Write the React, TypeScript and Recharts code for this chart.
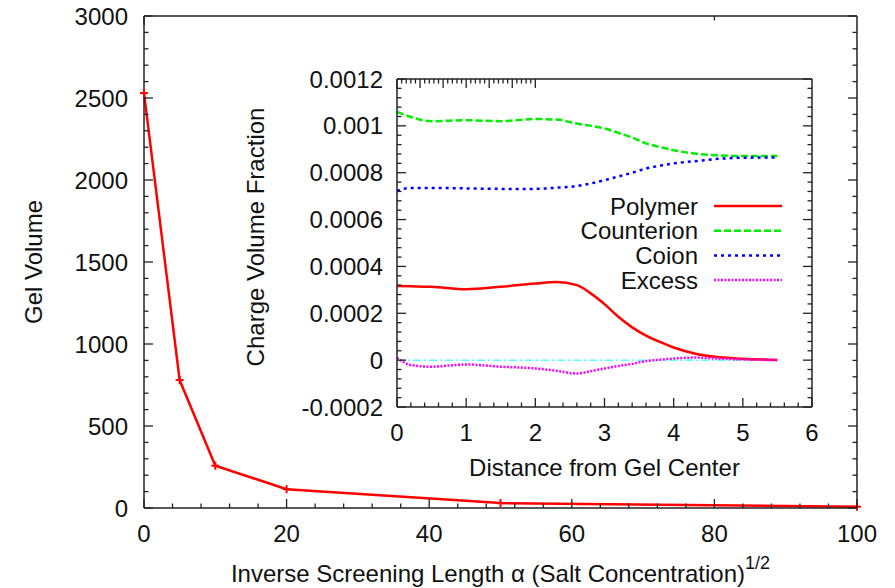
import React from 'react';
import { LineChart, Line, XAxis, YAxis, Legend, Label } from 'recharts';

const FONT = '"Liberation Sans", Arial, Helvetica, sans-serif';
const FS = 24;

// main plot: gel volume against inverse screening length
const alpha = [0, 5, 10, 20, 50, 100];
const gelVolume = [2530, 780, 258, 115, 30, 8];
const mainXTicks = [0, 20, 40, 60, 80, 100];
const mainYTicks = [0, 500, 1000, 1500, 2000, 2500, 3000];

// inset: charge profiles across the gel
const distance = [0, 0.2, 0.5, 1.0, 1.5, 2.0, 2.3, 2.6, 2.8, 3.0, 3.2, 3.4, 3.6, 3.8, 4.0, 4.3, 4.6, 5.0, 5.5];
const polymer = [0.000316, 0.000315, 0.000313, 0.000303, 0.000313, 0.000327, 0.000334, 0.00032, 0.000285, 0.000239, 0.000185, 0.00014, 0.000105, 0.000078, 0.000054, 0.0000285, 0.000014, 0.000006, 0.000001];
const counterion = [0.00106, 0.001038, 0.00102, 0.001024, 0.00102, 0.001029, 0.001027, 0.00101, 0.001, 0.000989, 0.00097, 0.00095, 0.000925, 0.00091, 0.000896, 0.000882, 0.000875, 0.000871, 0.000871];
const coion = [0.000723, 0.000735, 0.000735, 0.000733, 0.000731, 0.000731, 0.000736, 0.000743, 0.000754, 0.000768, 0.000784, 0.0008, 0.000818, 0.00083, 0.00084, 0.000849, 0.000858, 0.000864, 0.000865];
const excess = [0.00001, -0.000021, -0.000028, -0.0000185, -0.000028, -0.0000355, -0.000045, -0.000057, -0.000047, -0.0000355, -0.000025, -0.000016, -0.000004, 0.000002, 0.000007, 0.000011, 0.000007, 0.000003, 0];
const zeroLine = [0, 0, 0, 0, 0, 0, 0, 0, 0, 0, 0, 0, 0, 0, 0, 0, 0, 0, 0];
const insetXTicks = [0, 1, 2, 3, 4, 5, 6];
const insetYTicks = [-0.0002, 0, 0.0002, 0.0004, 0.0006, 0.0008, 0.001, 0.0012];

const mainData = alpha.map((a, i) => ({ alpha: a, volume: gelVolume[i] }));
const insetData = distance.map((d, i) => ({
  d,
  polymer: polymer[i],
  counterion: counterion[i],
  coion: coion[i],
  excess: excess[i],
  zero: zeroLine[i],
}));

const series = [
  { key: 'polymer', name: 'Polymer', color: '#ff0000', dash: undefined as string | undefined, width: 2.5 },
  { key: 'counterion', name: 'Counterion', color: '#00ee00', dash: '7 3', width: 2.5 },
  { key: 'coion', name: 'Coion', color: '#0000ff', dash: '3 4', width: 2.5 },
  { key: 'excess', name: 'Excess', color: '#ff00ff', dash: '2 1.5', width: 2.5 },
];

// subdivide major ticks for the small inward marks
const withMinor = (majors: number[], parts: number) => {
  const out: number[] = [];
  for (let i = 0; i < majors.length - 1; i++) {
    const step = (majors[i + 1] - majors[i]) / parts;
    for (let k = 0; k < parts; k++) out.push(majors[i] + k * step);
  }
  out.push(majors[majors.length - 1]);
  return out;
};

const AxisTick = (props: any) => {
  const { x, y, payload, side, majors, gap } = props;
  const hit = majors.find((m: number) => Math.abs(m - payload.value) < 1e-9);
  const isMajor = hit !== undefined;
  const len = isMajor ? 9 : 4.5;
  let l = [x, y, x, y];
  if (side === 'bottom') l = [x, y, x, y - len];
  if (side === 'top') l = [x, y, x, y + len];
  if (side === 'left') l = [x, y, x + len, y];
  if (side === 'right') l = [x, y, x - len, y];
  const txt = { fontFamily: FONT, fontSize: FS, fill: '#111' };
  return (
    <g>
      <line x1={l[0]} y1={l[1]} x2={l[2]} y2={l[3]} stroke="#222" strokeWidth={1.3} />
      {isMajor && side === 'bottom' && (
        <text x={x} y={y + gap} dy="0.36em" textAnchor="middle" {...txt}>{String(hit)}</text>
      )}
      {isMajor && side === 'left' && (
        <text x={x - gap} y={y} dy="0.36em" textAnchor="end" {...txt}>{String(hit)}</text>
      )}
    </g>
  );
};

const axisLine = { stroke: '#222', strokeWidth: 1.5 };

const PlusDot = (props: any) => {
  const { cx, cy } = props;
  if (cx == null || cy == null) return null;
  return (
    <g>
      <line x1={cx - 4} y1={cy} x2={cx + 4} y2={cy} stroke="#ff0000" strokeWidth={2} />
      <line x1={cx} y1={cy - 4} x2={cx} y2={cy + 4} stroke="#ff0000" strokeWidth={2} />
    </g>
  );
};

const renderLegend = () => (
  <svg width={340} height={110}>
    {series.map((s, i) => {
      const cy = 18 + i * 24.7;
      return (
        <g key={s.key}>
          <text x={248} y={cy} dy="0.36em" textAnchor="end" fontFamily={FONT} fontSize={FS} fill="#111">{s.name}</text>
          <line x1={264} y1={cy} x2={332} y2={cy} stroke={s.color} strokeWidth={s.width} strokeDasharray={s.dash} />
        </g>
      );
    })}
  </svg>
);

const MainChart = () => {
  const xt = withMinor(mainXTicks, 5);
  const yt = withMinor(mainYTicks, 5);
  return (
    <LineChart width={895} height={588} data={mainData} margin={{ top: 0, right: 0, bottom: 0, left: 0 }}>
      <XAxis dataKey="alpha" type="number" domain={[0, 100]} ticks={xt} interval={0} height={80}
        tickSize={0} tickMargin={0} tickLine={false} axisLine={axisLine}
        tick={(p: any) => <AxisTick {...p} side="bottom" majors={mainXTicks} gap={25} />}>
        <Label content={(p: any) => {
          const vb = p.viewBox;
          return (
            <text x={vb.x + vb.width / 2} y={vb.y + 74} textAnchor="middle" fontFamily={FONT} fontSize={FS} fill="#111">
              Inverse Screening Length α (Salt Concentration)
              <tspan dy={-13} fontSize={18}>1/2</tspan>
            </text>
          );
        }} />
      </XAxis>
      <XAxis xAxisId="top" orientation="top" type="number" domain={[0, 100]} allowDataOverflow ticks={xt} interval={0} height={16}
        tickSize={0} tickMargin={0} tickLine={false} axisLine={axisLine}
        tick={(p: any) => <AxisTick {...p} side="top" majors={mainXTicks} gap={0} />} />
      <YAxis type="number" domain={[0, 3000]} ticks={yt} interval={0} width={144}
        tickSize={0} tickMargin={0} tickLine={false} axisLine={axisLine}
        tick={(p: any) => <AxisTick {...p} side="left" majors={mainYTicks} gap={16} />}>
        <Label content={(p: any) => {
          const vb = p.viewBox;
          const cx = vb.x + 33;
          const cy = vb.y + vb.height / 2;
          return (
            <text x={cx} y={cy} dy="0.36em" textAnchor="middle" transform={`rotate(-90, ${cx}, ${cy})`} fontFamily={FONT} fontSize={FS} fill="#111">
              Gel Volume
            </text>
          );
        }} />
      </YAxis>
      <YAxis yAxisId="right" orientation="right" type="number" domain={[0, 3000]} allowDataOverflow ticks={yt} interval={0} width={38}
        tickSize={0} tickMargin={0} tickLine={false} axisLine={axisLine}
        tick={(p: any) => <AxisTick {...p} side="right" majors={mainYTicks} gap={0} />} />
      <Line type="linear" dataKey="volume" stroke="#ff0000" strokeWidth={2.5} dot={<PlusDot />} activeDot={false} isAnimationActive={false} />
    </LineChart>
  );
};

const InsetChart = () => {
  const xt = withMinor(insetXTicks, 5);
  const yt = withMinor(insetYTicks, 5);
  return (
    <LineChart width={600} height={430} data={insetData} margin={{ top: 0, right: 0, bottom: 0, left: 0 }}>
      <XAxis dataKey="d" type="number" domain={[0, 6]} ticks={xt} interval={0} height={83}
        tickSize={0} tickMargin={0} tickLine={false} axisLine={axisLine}
        tick={(p: any) => <AxisTick {...p} side="bottom" majors={insetXTicks} gap={25} />}>
        <Label content={(p: any) => {
          const vb = p.viewBox;
          return (
            <text x={vb.x + vb.width / 2} y={vb.y + 60} dy="0.36em" textAnchor="middle" fontFamily={FONT} fontSize={FS} fill="#111">
              Distance from Gel Center
            </text>
          );
        }} />
      </XAxis>
      <XAxis xAxisId="top" orientation="top" type="number" domain={[0, 6]} allowDataOverflow ticks={xt} interval={0} height={19}
        tickSize={0} tickMargin={0} tickLine={false} axisLine={axisLine}
        tick={(p: any) => <AxisTick {...p} side="top" majors={insetXTicks} gap={0} />} />
      <YAxis type="number" domain={[-0.0002, 0.0012]} allowDataOverflow ticks={yt} interval={0} width={167}
        tickSize={0} tickMargin={0} tickLine={false} axisLine={axisLine}
        tick={(p: any) => <AxisTick {...p} side="left" majors={insetYTicks} gap={14} />}>
        <Label content={(p: any) => {
          const vb = p.viewBox;
          const cx = vb.x + 25;
          const cy = vb.y + vb.height / 2 - 6;
          return (
            <text x={cx} y={cy} dy="0.36em" textAnchor="middle" transform={`rotate(-90, ${cx}, ${cy})`} fontFamily={FONT} fontSize={FS} fill="#111">
              Charge Volume Fraction
            </text>
          );
        }} />
      </YAxis>
      <YAxis yAxisId="right" orientation="right" type="number" domain={[-0.0002, 0.0012]} allowDataOverflow ticks={yt} interval={0} width={18}
        tickSize={0} tickMargin={0} tickLine={false} axisLine={axisLine}
        tick={(p: any) => <AxisTick {...p} side="right" majors={insetYTicks} gap={0} />} />
      <Line type="linear" dataKey="zero" stroke="#00ffff" strokeWidth={1} strokeDasharray="8 3 2 3" dot={false} activeDot={false} legendType="none" isAnimationActive={false} />
      {series.map((s) => (
        <Line key={s.key} type="monotone" dataKey={s.key} name={s.name} stroke={s.color} strokeWidth={s.width}
          strokeDasharray={s.dash} dot={false} activeDot={false} isAnimationActive={false} />
      ))}
      <Legend layout="vertical" align="center" verticalAlign="middle" content={renderLegend}
        wrapperStyle={{ left: 220, top: 128, width: 340, height: 110 }} />
    </LineChart>
  );
};

export default function App() {
  return (
    <div style={{ position: 'absolute', left: 0, top: 0, width: 895, height: 588, background: '#fff' }}>
      <div style={{ position: 'absolute', left: 0, top: 0 }}>
        <MainChart />
      </div>
      <div style={{ position: 'absolute', left: 230, top: 60 }}>
        <InsetChart />
      </div>
    </div>
  );
}
